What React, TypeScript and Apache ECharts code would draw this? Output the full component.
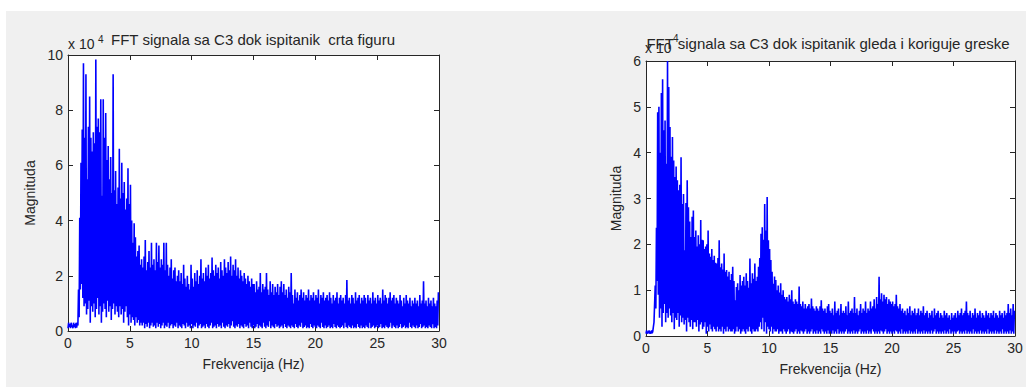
import React, { useEffect, useRef } from "react";
import * as echarts from "echarts";

// Frequency bin step (Hz) of the hand-read spectra below
const FREQ_STEP = 0.1;
const FREQ_MAX = 30;

// Values in units of 10^4. Peaks sit at f = i*0.1 + 0.05, troughs at f = i*0.1.
const peaksCrta = [
  0.3, 0.25, 0.3, 0.2, 0.3, 0.25, 0.3, 0.3, 1.5, 4.1,
  6.1, 7.3, 9.7, 7.0, 9.3, 5.5, 7.4, 8.5, 7.0, 6.5,
  7.2, 6.8, 9.84, 7.4, 7.7, 7.2, 8.4, 4.9, 8.4, 7.0,
  7.9, 6.2, 6.7, 5.5, 6.3, 5.0, 9.3, 5.1, 5.8, 4.6,
  5.2, 6.6, 4.8, 6.1, 5.0, 5.4, 4.4, 4.8, 5.9, 4.6,
  5.3, 4.0, 3.2, 3.9, 3.4, 2.7, 2.9, 3.1, 2.4, 2.6,
  2.3, 2.7, 3.3, 2.2, 2.5, 2.9, 2.3, 3.2, 2.4, 2.6,
  2.2, 3.2, 2.5, 3.1, 2.3, 2.6, 2.4, 3.2, 2.2, 3.2,
  2.4, 2.0, 2.3, 2.6, 1.9, 2.2, 2.3, 1.8, 2.0, 2.2,
  1.8, 2.1, 1.7, 2.4, 1.9, 1.6, 2.0, 1.7, 1.5, 2.4,
  1.9, 1.6, 2.1, 1.8, 2.2, 1.7, 2.0, 2.6, 1.9, 2.1,
  1.8, 2.3, 2.0, 2.4, 1.9, 2.1, 2.66, 2.2, 2.0, 2.4,
  2.1, 2.3, 1.9, 2.5, 2.2, 2.0, 2.6, 2.3, 2.1, 2.5,
  2.2, 2.7, 2.0, 2.4, 2.2, 2.6, 2.0, 2.3, 1.9, 2.2,
  2.0, 1.8, 2.1, 1.9, 1.7, 2.0, 1.8, 1.6, 1.9, 1.7,
  1.7, 1.4, 1.8, 1.5, 1.6, 2.1, 1.4, 1.7, 1.5, 1.6,
  2.1, 1.5, 1.3, 1.8, 1.4, 1.7, 1.3, 1.6, 1.4, 1.7,
  1.3, 1.6, 1.8, 1.4, 1.7, 1.3, 1.5, 1.2, 1.6, 1.4,
  2.1, 1.3, 1.0, 1.5, 1.2, 1.4, 1.1, 1.3, 1.5, 1.2,
  1.4, 1.1, 1.3, 1.2, 1.5, 1.1, 1.3, 1.2, 1.4, 1.1,
  1.3, 1.2, 1.5, 1.0, 1.3, 1.2, 1.4, 1.1, 1.2, 1.3,
  1.1, 1.4, 1.2, 1.0, 1.3, 1.1, 1.2, 1.4, 1.0, 1.2,
  1.3, 1.1, 1.2, 1.0, 1.3, 1.85, 1.1, 1.2, 1.0, 1.3,
  1.2, 1.0, 1.4, 1.1, 1.2, 1.3, 1.0, 1.2, 1.1, 1.3,
  1.2, 1.0, 1.3, 1.1, 1.2, 1.0, 1.4, 1.1, 1.2, 1.0,
  1.3, 1.1, 1.2, 1.0, 1.5, 1.1, 1.3, 1.2, 1.0, 1.2,
  1.4, 1.1, 1.2, 1.3, 1.0, 1.2, 1.1, 1.0, 1.3, 1.1,
  0.9, 1.2, 1.0, 1.3, 1.1, 1.0, 1.2, 0.9, 1.1, 1.0,
  1.2, 1.0, 1.1, 0.9, 1.3, 1.0, 1.1, 1.8, 1.0, 1.1,
  0.9, 1.2, 1.0, 1.1, 0.9, 1.2, 1.0, 0.9, 1.1, 1.4,
];

const troughsCrta = [
  0.1, 0.15, 0.1, 0.15, 0.1, 0.15, 0.1, 0.12, 0.2, 0.5,
  1.5, 1.7, 1.2, 0.9, 1.0, 0.6, 0.8, 1.1, 0.3, 0.9,
  0.7, 1.0, 0.5, 0.8, 1.2, 0.6, 0.9, 0.3, 0.7, 1.0,
  0.8, 0.5, 1.1, 0.7, 0.9, 0.4, 0.8, 1.0, 0.6, 0.9,
  0.7, 0.5, 0.9, 0.6, 0.8, 0.3, 0.7, 0.9, 0.5, 0.2,
  0.6, 0.3, 0.5, 0.4, 0.2, 0.5, 0.3, 0.4, 0.2, 0.3,
  0.2, 0.3, 0.1, 0.25, 0.15, 0.3, 0.1, 0.2, 0.3, 0.15,
  0.2, 0.1, 0.3, 0.15, 0.25, 0.1, 0.2, 0.3, 0.1, 0.2,
  0.15, 0.3, 0.1, 0.2, 0.25, 0.1, 0.2, 0.15, 0.3, 0.1,
  0.2, 0.15, 0.1, 0.25, 0.2, 0.1, 0.3, 0.15, 0.2, 0.1,
  0.25, 0.1, 0.2, 0.15, 0.3, 0.1, 0.2, 0.25, 0.1, 0.15,
  0.2, 0.1, 0.25, 0.15, 0.1, 0.2, 0.3, 0.1, 0.15, 0.2,
  0.1, 0.25, 0.15, 0.2, 0.1, 0.3, 0.15, 0.1, 0.2, 0.15,
  0.25, 0.1, 0.2, 0.35, 0.15, 0.1, 0.2, 0.15, 0.25, 0.1,
  0.2, 0.15, 0.1, 0.25, 0.15, 0.2, 0.1, 0.3, 0.15, 0.1,
  0.2, 0.1, 0.15, 0.25, 0.1, 0.2, 0.15, 0.1, 0.3, 0.15,
  0.1, 0.2, 0.15, 0.35, 0.1, 0.2, 0.15, 0.1, 0.25, 0.15,
  0.2, 0.1, 0.15, 0.2, 0.1, 0.25, 0.15, 0.1, 0.2, 0.15,
  0.1, 0.2, 0.15, 0.1, 0.25, 0.15, 0.1, 0.2, 0.15, 0.3,
  0.1, 0.15, 0.2, 0.1, 0.15, 0.1, 0.25, 0.15, 0.1, 0.2,
  0.15, 0.1, 0.2, 0.15, 0.1, 0.3, 0.15, 0.1, 0.2, 0.1,
  0.15, 0.2, 0.1, 0.15, 0.1, 0.25, 0.15, 0.1, 0.2, 0.15,
  0.1, 0.15, 0.2, 0.1, 0.3, 0.15, 0.1, 0.2, 0.15, 0.1,
  0.2, 0.1, 0.15, 0.1, 0.25, 0.15, 0.1, 0.2, 0.1, 0.15,
  0.1, 0.2, 0.15, 0.1, 0.3, 0.1, 0.15, 0.2, 0.1, 0.15,
  0.2, 0.1, 0.15, 0.25, 0.1, 0.15, 0.1, 0.2, 0.15, 0.1,
  0.15, 0.3, 0.1, 0.2, 0.15, 0.1, 0.2, 0.1, 0.15, 0.25,
  0.1, 0.15, 0.2, 0.1, 0.15, 0.1, 0.3, 0.15, 0.1, 0.2,
  0.15, 0.1, 0.2, 0.1, 0.15, 0.25, 0.1, 0.15, 0.2, 0.1,
  0.15, 0.1, 0.2, 0.15, 0.1, 0.25, 0.1, 0.15, 0.1, 0.2,
];

const peaksGleda = [
  0.12, 0.1, 0.12, 0.1, 0.12, 0.1, 0.3, 1.1, 2.36, 4.88,
  5.0, 4.0, 5.3, 5.6, 4.49, 4.7, 3.76, 6.0, 5.43, 4.56,
  3.91, 4.34, 3.83, 3.47, 3.7, 3.4, 3.18, 3.3, 3.9, 2.88,
  3.1, 1.87, 2.9, 3.4, 2.81, 2.5, 2.16, 2.6, 2.74, 2.16,
  2.3, 1.95, 2.2, 2.0, 2.53, 2.1, 2.09, 1.9, 1.95, 2.0,
  2.3, 1.8, 1.73, 1.9, 1.66, 1.75, 1.6, 1.58, 1.7, 2.09,
  1.5, 1.58, 1.45, 1.8, 1.4, 1.44, 1.3, 1.4, 1.22, 1.35,
  1.51, 1.2, 0.78, 1.07, 1.15, 1.0, 1.33, 1.1, 1.2, 1.29,
  1.1, 1.37, 1.2, 1.05, 1.69, 1.15, 1.37, 1.25, 1.58, 1.2,
  1.29, 1.51, 1.7, 2.23, 2.37, 2.1, 2.88, 2.3, 3.03, 2.09,
  1.9, 1.66, 1.4, 1.14, 1.3, 1.22, 1.0, 1.1, 0.95, 1.15,
  0.9, 1.0, 0.85, 0.8, 0.85, 0.75, 0.9, 0.8, 1.0, 0.75,
  0.7, 0.8, 0.75, 0.7, 1.08, 0.7, 0.65, 0.75, 0.6, 0.7,
  0.6, 0.65, 0.7, 0.6, 0.82, 0.65, 0.6, 0.55, 0.65, 0.6,
  0.55, 0.65, 0.78, 0.6, 0.55, 0.6, 0.5, 0.65, 0.7, 0.55,
  0.5, 0.6, 0.45, 0.75, 0.5, 0.55, 0.6, 0.45, 0.7, 0.5,
  0.55, 0.5, 0.65, 0.45, 0.75, 0.5, 0.55, 0.6, 0.5, 0.85,
  0.5, 0.6, 0.45, 0.55, 0.7, 0.5, 0.6, 0.55, 0.75, 0.5,
  0.6, 0.55, 0.75, 0.6, 0.65, 0.8, 0.6, 0.85, 0.7, 1.29,
  0.8, 0.93, 0.75, 0.9, 0.8, 0.85, 0.7, 0.8, 0.75, 0.7,
  0.75, 0.65, 0.7, 0.9, 0.65, 0.6, 0.7, 0.55, 0.6, 0.5,
  0.55, 0.45, 0.6, 0.5, 0.65, 0.45, 0.55, 0.5, 0.6, 0.45,
  0.5, 0.6, 0.45, 0.55, 0.5, 0.65, 0.45, 0.5, 0.55, 0.4,
  0.5, 0.45, 0.55, 0.4, 0.6, 0.45, 0.5, 0.55, 0.4, 0.5,
  0.45, 0.4, 0.55, 0.45, 0.5, 0.4, 0.45, 0.35, 0.5, 0.4,
  0.45, 0.5, 0.4, 0.55, 0.45, 0.5, 0.6, 0.45, 0.5, 0.55,
  0.75, 0.5, 0.45, 0.55, 0.4, 0.5, 0.45, 0.6, 0.4, 0.5,
  0.45, 0.55, 0.4, 0.5, 0.45, 0.4, 0.55, 0.45, 0.5, 0.4,
  0.5, 0.45, 0.55, 0.4, 0.5, 0.45, 0.4, 0.55, 0.45, 0.5,
  0.4, 0.55, 0.45, 0.5, 0.7, 0.5, 0.6, 0.45, 0.7, 0.55,
];

const troughsGleda = [
  0.05, 0.05, 0.06, 0.05, 0.05, 0.06, 0.1, 0.3, 0.6, 1.2,
  0.9, 0.4, 0.6, 0.2, 0.5, 0.7, 0.3, 0.5, 0.4, 0.6,
  0.45, 0.3, 0.5, 0.15, 0.4, 0.35, 0.5, 0.2, 0.45, 0.3,
  0.4, 0.25, 0.35, 0.1, 0.4, 0.3, 0.2, 0.35, 0.15, 0.3,
  0.3, 0.2, 0.35, 0.1, 0.25, 0.3, 0.15, 0.2, 0.3, 0.05,
  0.2, 0.1, 0.25, 0.15, 0.1, 0.2, 0.15, 0.1, 0.2, 0.1,
  0.15, 0.1, 0.2, 0.05, 0.15, 0.1, 0.2, 0.1, 0.15, 0.1,
  0.1, 0.15, 0.05, 0.1, 0.2, 0.1, 0.15, 0.05, 0.1, 0.15,
  0.1, 0.05, 0.15, 0.1, 0.2, 0.1, 0.05, 0.15, 0.1, 0.1,
  0.15, 0.1, 0.2, 0.3, 0.15, 0.4, 0.1, 0.3, 0.05, 0.2,
  0.15, 0.1, 0.2, 0.05, 0.15, 0.1, 0.1, 0.15, 0.05, 0.1,
  0.1, 0.05, 0.15, 0.1, 0.05, 0.1, 0.15, 0.05, 0.1, 0.08,
  0.05, 0.1, 0.15, 0.05, 0.1, 0.05, 0.12, 0.1, 0.05, 0.1,
  0.15, 0.05, 0.1, 0.05, 0.1, 0.15, 0.05, 0.1, 0.05, 0.12,
  0.05, 0.1, 0.05, 0.15, 0.1, 0.05, 0.1, 0.05, 0.12, 0.05,
  0.1, 0.05, 0.12, 0.05, 0.1, 0.05, 0.15, 0.05, 0.1, 0.05,
  0.1, 0.05, 0.1, 0.15, 0.05, 0.1, 0.05, 0.1, 0.05, 0.12,
  0.05, 0.1, 0.05, 0.1, 0.15, 0.05, 0.1, 0.05, 0.1, 0.05,
  0.12, 0.05, 0.1, 0.05, 0.15, 0.1, 0.05, 0.1, 0.05, 0.1,
  0.05, 0.12, 0.1, 0.05, 0.1, 0.15, 0.05, 0.1, 0.05, 0.1,
  0.05, 0.1, 0.05, 0.12, 0.1, 0.05, 0.1, 0.05, 0.15, 0.05,
  0.1, 0.05, 0.1, 0.05, 0.12, 0.05, 0.1, 0.05, 0.1, 0.05,
  0.15, 0.05, 0.1, 0.05, 0.1, 0.05, 0.12, 0.05, 0.1, 0.05,
  0.1, 0.05, 0.12, 0.05, 0.1, 0.15, 0.05, 0.1, 0.05, 0.1,
  0.05, 0.1, 0.05, 0.12, 0.05, 0.1, 0.05, 0.15, 0.05, 0.1,
  0.05, 0.1, 0.05, 0.1, 0.12, 0.05, 0.1, 0.05, 0.1, 0.05,
  0.12, 0.05, 0.1, 0.05, 0.1, 0.05, 0.15, 0.05, 0.1, 0.05,
  0.1, 0.05, 0.12, 0.05, 0.1, 0.05, 0.1, 0.05, 0.15, 0.05,
  0.1, 0.05, 0.1, 0.05, 0.12, 0.05, 0.1, 0.05, 0.1, 0.05,
  0.15, 0.05, 0.1, 0.05, 0.1, 0.05, 0.12, 0.05, 0.1, 0.05,
];

const xTicks = [0, 5, 10, 15, 20, 25, 30];
const titleCrta = "FFT signala sa C3 dok ispitanik  crta figuru";
const titleGleda = "FFT signala sa C3 dok ispitanik gleda i koriguje greske";
const xName = "Frekvencija (Hz)";
const yName = "Magnituda";
const yMaxCrta = 10;
const yStepCrta = 2;
const yMaxGleda = 6;
const yStepGleda = 1;

const FONT = "Arial, 'Liberation Sans', Helvetica, sans-serif";
const INK = "#262626";

function buildSpectrum(peaks: number[], troughs: number[]) {
  const pts: number[][] = [];
  for (let i = 0; i < peaks.length; i++) {
    const f = i * FREQ_STEP;
    pts.push([+f.toFixed(2), troughs[i]]);
    pts.push([+(f + FREQ_STEP / 2).toFixed(2), peaks[i]]);
  }
  return pts;
}

function xAxes(gridIndex: number) {
  const base = {
    gridIndex,
    type: "value" as const,
    min: xTicks[0],
    max: FREQ_MAX,
    interval: xTicks[1] - xTicks[0],
    axisLine: { show: true, onZero: false, lineStyle: { color: INK, width: 1 } },
    axisTick: { show: true, inside: true, length: 5, lineStyle: { color: INK } },
    splitLine: { show: false },
  };
  return [
    {
      ...base,
      position: "bottom",
      axisLabel: { show: true, margin: 5, color: INK, fontSize: 14, fontFamily: FONT },
      name: xName,
      nameLocation: "middle",
      nameGap: 26,
      nameTextStyle: { color: INK, fontSize: 14, fontFamily: FONT },
    },
    { ...base, position: "top", axisLabel: { show: false } },
  ];
}

function yAxes(gridIndex: number, max: number, step: number, nameGap: number) {
  const base = {
    gridIndex,
    type: "value" as const,
    min: 0,
    max,
    interval: step,
    axisLine: { show: true, onZero: false, lineStyle: { color: INK, width: 1 } },
    axisTick: { show: true, inside: true, length: 5, lineStyle: { color: INK } },
    splitLine: { show: false },
  };
  return [
    {
      ...base,
      position: "left",
      axisLabel: { show: true, margin: 5, color: INK, fontSize: 14, fontFamily: FONT },
      name: yName,
      nameLocation: "middle",
      nameGap,
      nameTextStyle: { color: INK, fontSize: 14, fontFamily: FONT },
    },
    { ...base, position: "right", axisLabel: { show: false } },
  ];
}

export default function App() {
  const ref = useRef<HTMLDivElement>(null);

  useEffect(() => {
    if (!ref.current) return;
    const chart = echarts.init(ref.current, undefined, { renderer: "svg" });
    const text = (t: string, x: number, y: number, size: number, align = "left") => ({
      type: "text",
      x,
      y,
      silent: true,
      style: {
        text: t,
        fill: INK,
        font: `${size}px ${FONT}`,
        align,
        verticalAlign: "middle",
      },
    });
    chart.setOption({
      animation: false,
      backgroundColor: "transparent",
      grid: [
        { left: 68, top: 55, width: 371, height: 276, show: true, backgroundColor: "#ffffff", borderWidth: 0 },
        { left: 646, top: 61, width: 369, height: 275, show: true, backgroundColor: "#ffffff", borderWidth: 0 },
      ],
      xAxis: [...xAxes(0), ...xAxes(1)],
      yAxis: [...yAxes(0, yMaxCrta, yStepCrta, 31), ...yAxes(1, yMaxGleda, yStepGleda, 23)],
      series: [
        {
          type: "line",
          xAxisIndex: 0,
          yAxisIndex: 0,
          data: buildSpectrum(peaksCrta, troughsCrta),
          symbol: "none",
          showSymbol: false,
          silent: true,
          lineStyle: { color: "#0000ff", width: 1.6 },
        },
        {
          type: "line",
          xAxisIndex: 2,
          yAxisIndex: 2,
          data: buildSpectrum(peaksGleda, troughsGleda),
          symbol: "none",
          showSymbol: false,
          silent: true,
          lineStyle: { color: "#0000ff", width: 1.6 },
        },
      ],
      graphic: [
        text("x 10", 68, 44, 14),
        text("4", 98, 39, 10),
        text(titleCrta, 253, 39, 15, "center"),
        text("x 10", 645, 48, 14),
        text("4", 673, 38, 10),
        text(titleGleda, 828, 43, 15, "center"),
      ],
    });
    return () => chart.dispose();
  }, []);

  return (
    <div style={{ position: "fixed", left: 0, top: 0, width: 1026, height: 387, background: "#ffffff" }}>
      <div style={{ position: "absolute", left: 6, top: 11, right: 0, bottom: 0, background: "#f0f0f0" }} />
      <div ref={ref} style={{ position: "absolute", left: 0, top: 0, width: 1026, height: 387 }} />
    </div>
  );
}
